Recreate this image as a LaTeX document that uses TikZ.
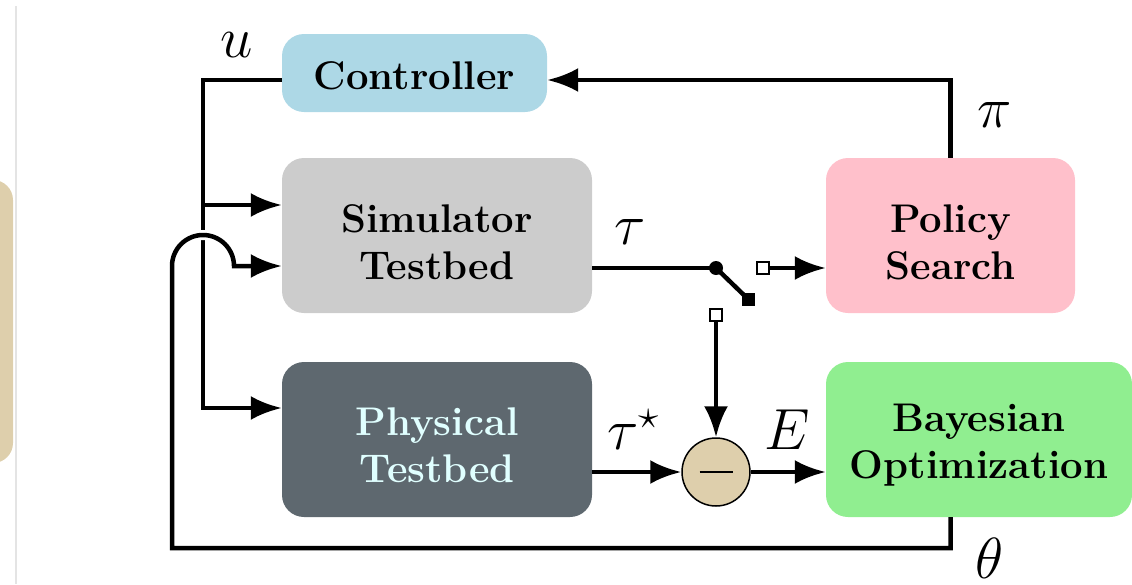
\documentclass[tikz,border=0pt]{standalone}
\usepackage{fix-cm}
\usepackage{fontspec}
\usetikzlibrary{arrows.meta,shapes.geometric}
\definecolor{ctrlblue}{RGB}{173,216,230}
\definecolor{simgray}{RGB}{204,204,204}
\definecolor{polpink}{RGB}{255,192,203}
\definecolor{physgray}{RGB}{94,104,111}
\definecolor{phystext}{RGB}{224,255,255}
\definecolor{baygreen}{RGB}{144,238,144}
\definecolor{beige}{RGB}{222,207,172}
\definecolor{edgegray}{RGB}{228,228,228}
\newcommand{\blkfont}{\fontsize{40}{47}\selectfont\bfseries}
\newcommand{\lblfont}{\fontsize{58}{60}\selectfont}
\begin{document}
\begin{tikzpicture}[x=1pt,y=-1pt,
  blk/.style={rounded corners=22pt, inner sep=0pt},
  blktext/.style={align=center, font=\blkfont, inner sep=0pt},
  wire/.style={line width=4.5pt},
  arr/.style={wire, -{Latex[length=31pt,width=24pt]}},
  lbl/.style={font=\lblfont, inner sep=0pt},
  opensq/.style={draw, fill=white, line width=2.5pt, minimum size=12pt, inner sep=0pt},
]
\useasboundingbox (0,0) rectangle (1132,584);
\begin{scope}
  \clip (0,0) rectangle (1132,584);
  \fill[beige, rounded corners=20pt] (-40,180) rectangle (13,463);
\end{scope}
\draw[edgegray, line width=1.5pt] (16,6) -- (16,584);

% blocks
\node[blk, fill=ctrlblue, minimum width=265pt, minimum height=78pt] (ctrl) at (414.5,73) {};
\node[blk, fill=simgray, minimum width=310pt, minimum height=155pt] (sim) at (437,235.5) {};
\node[blk, fill=polpink, minimum width=249pt, minimum height=155pt] (pol) at (950.5,235.5) {};
\node[blk, fill=physgray, minimum width=310pt, minimum height=155pt] (phys) at (437,439.5) {};
\node[blk, fill=baygreen, minimum width=306pt, minimum height=155pt] (bay) at (979,439.5) {};

\node[blktext] (ctrlt) at ([yshift=-3pt]ctrl.center) {Controller};
\node[blktext] (simt) at ([yshift=-7pt]sim.center) {Simulator\\Testbed};
\node[blktext] (polt) at ([yshift=-7pt]pol.center) {Policy\\Search};
\node[blktext, text=phystext] (physt) at ([yshift=-6pt]phys.center) {Physical\\Testbed};
\node[blktext] (bayt) at ([yshift=-6pt]bay.center) {Bayesian\\Optimization};

% comparator
\node[circle, draw, line width=1.5pt, fill=beige, minimum size=68pt, inner sep=0pt] (minus) at (716,472) {};
\draw[line width=2.8pt] ([xshift=-16.5pt]minus.center) -- ([xshift=16.5pt]minus.center);

% switch
\node[circle, fill, inner sep=0pt, minimum size=14pt] (piv) at (716,268) {};
\node[fill, inner sep=0pt, minimum size=13pt] (sw) at (748,299) {};
\node[opensq] (o1) at (763,268) {};
\node[opensq] (o2) at (716,315) {};

% coordinates
\coordinate (b1) at (203,205);
\coordinate (b2) at (203,408);
\coordinate (hop) at (172,266);
\coordinate (fbtop) at (pol.north |- bay.south);

% policy -> controller
\draw[arr] (pol.north) |- ([yshift=-7pt]ctrl.east);
% controller -> testbeds
\draw[arr] ([yshift=-7pt]ctrl.west) -| (b2) -- (b2 -| phys.west);
\draw[arr] (b1) -- (b1 -| sim.west);
% feedback theta with hop-over
\draw[white, line width=10pt] (hop) arc[start angle=180, end angle=0, radius=31pt];
\draw[arr] (fbtop) -- ++(0,31) -| (hop) arc[start angle=180, end angle=0, radius=31pt] -- (hop -| sim.west);
% simulator -> switch
\draw[wire] (piv -| sim.east) -- (piv.center);
\draw[wire] (piv.center) -- (sw.center);
\draw[arr] (o1.east) -- (o1 -| pol.west);
\draw[arr] (o2.south) -- (minus);
% physical -> comparator -> BO
\draw[arr] (minus -| phys.east) -- (minus);
\draw[arr] (minus) -- (minus -| bay.west);

% labels
\node[lbl] (lu) at (237,45) {$u$};
\node[lbl] (ltau) at (630,232) {$\tau$};
\node[lbl] (ltaus) at (633,430) {$\tau^\star$};
\node[lbl] (lE) at (787,430) {$E$};
\node[lbl] (lpi) at (995,115) {$\pi$};
\node[lbl] (ltheta) at (990,558) {$\theta$};
\end{tikzpicture}
\end{document}
